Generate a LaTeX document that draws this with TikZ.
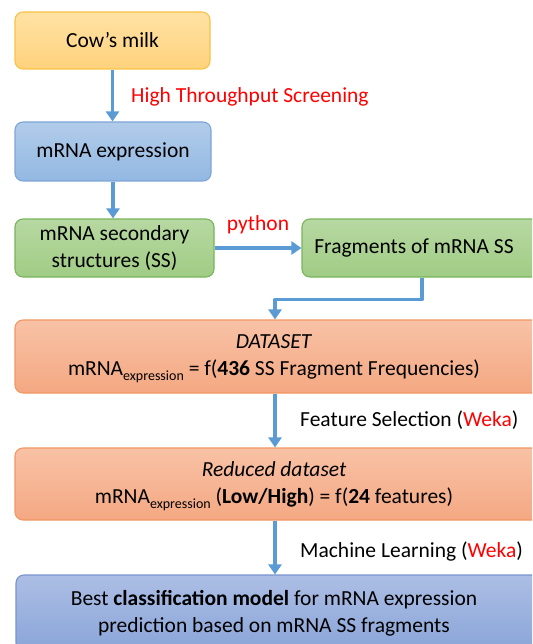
\documentclass[tikz,border=0pt]{standalone}
\usepackage{fontspec}
\setmainfont{Carlito}
\usetikzlibrary{arrows.meta}
\definecolor{flowblue}{HTML}{5B9BD5}
\definecolor{hotred}{HTML}{FF0000}
\newcommand{\sbexpr}{\raisebox{-5pt}[0pt][0pt]{\fontsize{14}{14}\selectfont expression}}

\begin{document}
\begin{tikzpicture}[line cap=butt,line join=round,x=1pt,y=-1pt,
  box/.style={rounded corners=8pt,line width=1.1pt,inner sep=0pt,align=center,
    font=\fontsize{21.5}{27}\selectfont},
  flow/.style={draw=flowblue,line width=3.8pt,-{Triangle[width=13pt,length=10pt]}},
  lbl/.style={inner sep=0pt,font=\fontsize{21.5}{27}\selectfont}]
\useasboundingbox (0,0) rectangle (532,644);
\clip(0,0) rectangle (532,644);
\coordinate (spine) at (275,0);
% boxes
\node[box,draw={rgb,255:red,247;green,195;blue,67},top color={rgb,255:red,255;green,226;blue,164},bottom color={rgb,255:red,255;green,210;blue,125},minimum width=195pt,minimum height=57pt] (cow) at (112.5,40.5) {Cow’s milk};
\node[box,draw={rgb,255:red,126;green,165;blue,216},top color={rgb,255:red,178;green,204;blue,234},bottom color={rgb,255:red,146;green,184;blue,226},minimum width=196pt,minimum height=59pt] (expr) at (113,151.5) {mRNA expression};
\node[box,draw={rgb,255:red,120;green,180;blue,90},top color={rgb,255:red,183;green,216;blue,162},bottom color={rgb,255:red,160;green,204;blue,132},minimum width=199pt,minimum height=58pt] (sec) at (114.5,248) {mRNA secondary\\structures (SS)};
\node[box,draw={rgb,255:red,120;green,180;blue,90},top color={rgb,255:red,183;green,216;blue,162},bottom color={rgb,255:red,160;green,204;blue,132},minimum width=240pt,minimum height=58pt] (frag) at (422,248) {Fragments of mRNA SS\hspace*{16pt}};
\node[box,draw={rgb,255:red,242;green,150;blue,100},top color={rgb,255:red,248;green,194;blue,166},bottom color={rgb,255:red,244;green,168;blue,130},minimum width=530pt,minimum height=73pt] (data) at (280,356.5) {\textit{DATASET}\hspace*{12pt}\\mRNA\sbexpr{} = f(\textbf{436} SS Fragment Frequencies)\hspace*{12pt}};
\node[box,draw={rgb,255:red,242;green,150;blue,100},top color={rgb,255:red,248;green,194;blue,166},bottom color={rgb,255:red,244;green,168;blue,130},minimum width=530pt,minimum height=72pt] (red) at (280,484) {\textit{Reduced dataset}\hspace*{12pt}\\mRNA\sbexpr{} (\textbf{Low/High}) = f(\textbf{24} features)\hspace*{12pt}};
\node[box,draw={rgb,255:red,120;green,148;blue,208},top color={rgb,255:red,172;green,190;blue,228},bottom color={rgb,255:red,138;green,165;blue,217},minimum width=529pt,minimum height=76pt] (best) at (280.5,613) {Best \textbf{classification model} for mRNA expression\hspace*{13pt}\\prediction based on mRNA SS fragments\hspace*{13pt}};
% connectors
\draw[flow] (cow.south) -- (cow.south |- expr.north);
\draw[flow] (expr.south) -- (expr.south |- sec.north);
\draw[flow] (sec.east) -- node[lbl,text=hotred,above=12pt] (py) {python} (frag.west);
\draw[flow] (frag.south) -- ++(0,22) -| (spine |- data.north);
\draw[flow] (spine |- data.south) -- (spine |- red.north);
\draw[flow] (spine |- red.south) -- (spine |- best.north);
% labels
\node[lbl,text=hotred,anchor=west] (hts) at (131,97) {High Throughput Screening};
\node[lbl,anchor=west] (fs) at (300,420) {Feature Selection (\textcolor{hotred}{Weka})};
\node[lbl,anchor=west] (ml) at (300,551) {Machine Learning (\textcolor{hotred}{Weka})};
\end{tikzpicture}
\end{document}
